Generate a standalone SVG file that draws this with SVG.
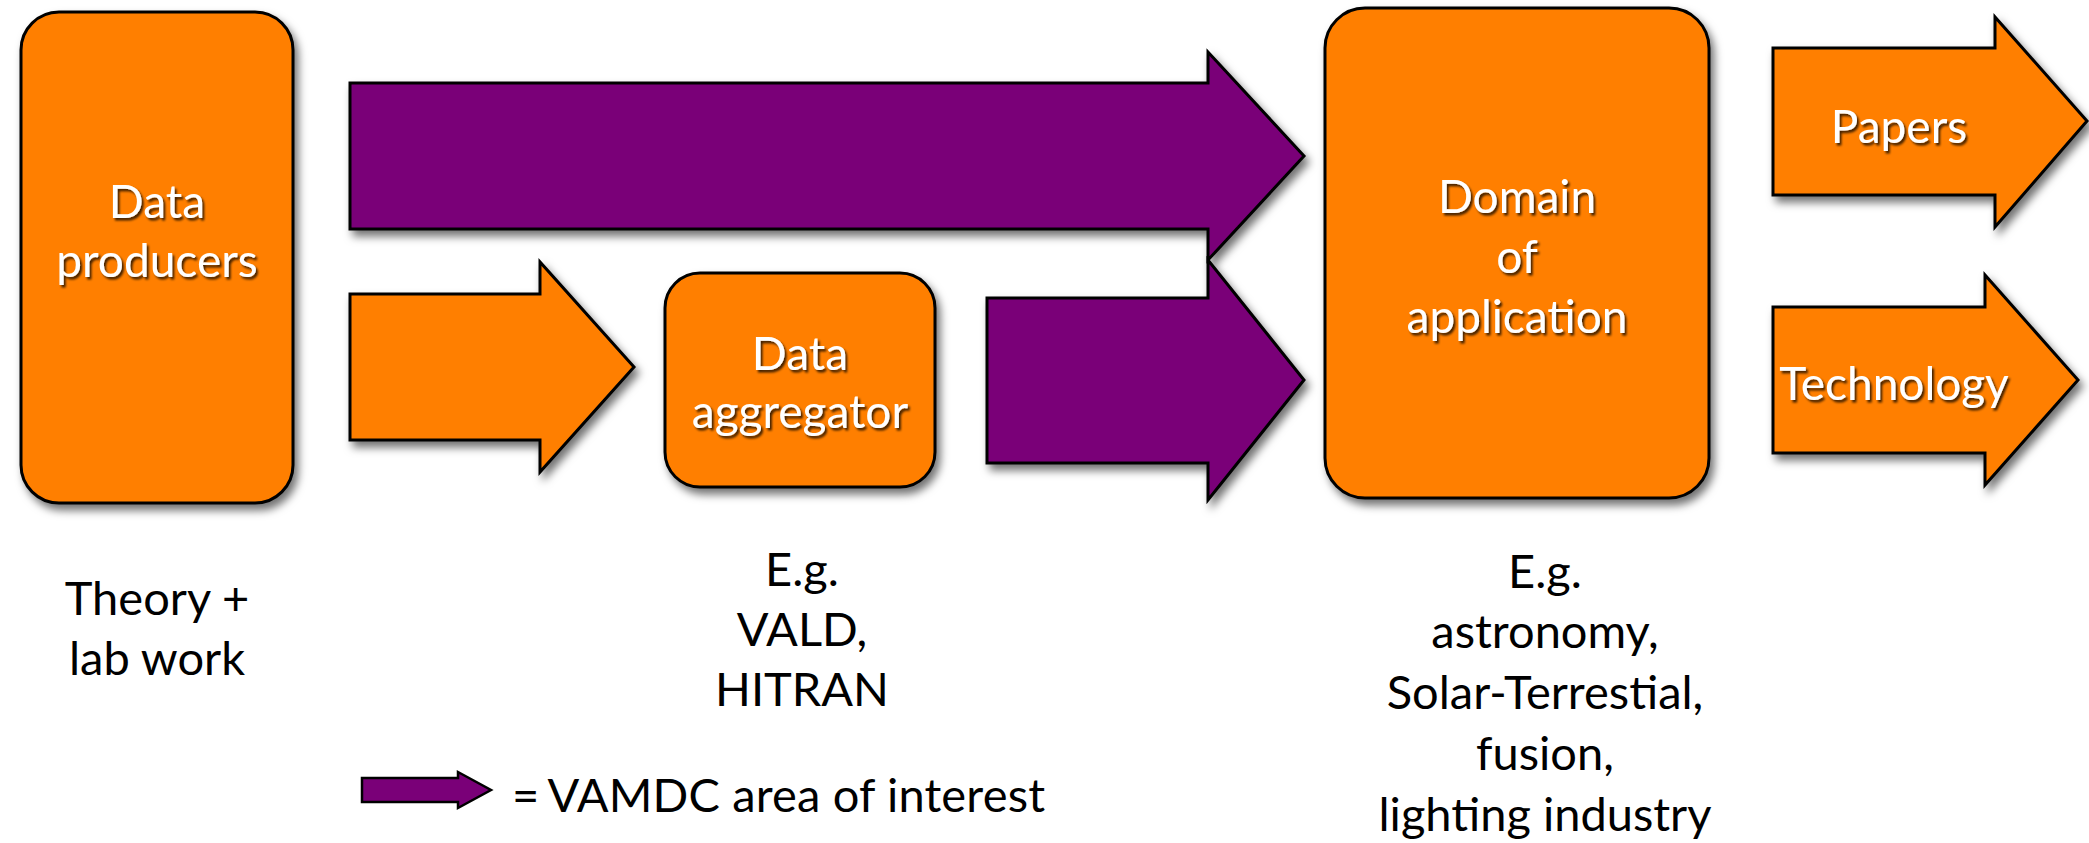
<svg xmlns="http://www.w3.org/2000/svg" width="2089" height="843" viewBox="0 0 2089 843">
  <defs>
    <filter id="shadow" x="-10%" y="-10%" width="130%" height="130%">
      <feDropShadow dx="4" dy="6" stdDeviation="4" flood-color="#000" flood-opacity="0.55"/>
    </filter>
    <filter id="tshadow" x="-10%" y="-20%" width="130%" height="150%">
      <feDropShadow dx="2" dy="2.5" stdDeviation="1.2" flood-color="#000" flood-opacity="0.75"/>
    </filter>
    <style>
      .orange { fill: #FF7F00; stroke: #000; stroke-width: 3; stroke-linejoin: miter; }
      .purple { fill: #7A0078; stroke: #000; stroke-width: 3; stroke-linejoin: miter; }
      .shape { filter: url(#shadow); }
      .lbl { font-family: "Lato", "Open Sans", sans-serif; font-size: 46px; fill: #fff; text-anchor: middle; filter: url(#tshadow); }
      .cap { font-family: "Lato", "Open Sans", sans-serif; font-size: 47px; fill: #000; text-anchor: middle; }
      .legend { font-family: "Lato", "Open Sans", sans-serif; font-size: 47px; fill: #000; }
    </style>
  </defs>
  <rect width="2089" height="843" fill="#fff"/>

  <g id="connectors">
    <path class="purple shape" d="M350,83 H1208 V52 L1304,156 L1208,260 V229 H350 Z"/>
    <path class="orange shape" d="M350,294 H540 V262 L634,367 L540,472 V440 H350 Z"/>
    <path class="purple shape" d="M987,298 H1208 V260 L1304,380 L1208,500 V463 H987 Z"/>
  </g>

  <g id="data-producers">
    <rect class="orange shape" x="21" y="12" width="272" height="491" rx="38" ry="38"/>
    <text class="lbl" x="157" y="218">Data</text>
    <text class="lbl" x="157" y="277">producers</text>
  </g>

  <g id="data-aggregator">
    <rect class="orange shape" x="665" y="273" width="270" height="214" rx="35" ry="35"/>
    <text class="lbl" x="800" y="370">Data</text>
    <text class="lbl" x="800" y="428">aggregator</text>
  </g>

  <g id="domain-of-application">
    <rect class="orange shape" x="1325" y="8" width="384" height="490" rx="40" ry="40"/>
    <text class="lbl" x="1517" y="213">Domain</text>
    <text class="lbl" x="1517" y="273">of</text>
    <text class="lbl" x="1517" y="333">application</text>
  </g>

  <g id="papers">
    <path class="orange shape" d="M1773,48 H1995 V17 L2087,121 L1995,227 V195 H1773 Z"/>
    <text class="lbl" x="1899" y="143">Papers</text>
  </g>

  <g id="technology">
    <path class="orange shape" d="M1773,307 H1985 V275 L2078,380 L1985,485 V453 H1773 Z"/>
    <text class="lbl" x="1894" y="400">Technology</text>
  </g>

  <g id="caption-producers">
    <text class="cap" x="157" y="615">Theory +</text>
    <text class="cap" x="157" y="675">lab work</text>
  </g>

  <g id="caption-aggregator">
    <text class="cap" x="802" y="586">E.g.</text>
    <text class="cap" x="802" y="646">VALD,</text>
    <text class="cap" x="802" y="706">HITRAN</text>
  </g>

  <g id="caption-domain">
    <text class="cap" x="1545" y="588">E.g.</text>
    <text class="cap" x="1545" y="648">astronomy,</text>
    <text class="cap" x="1545" y="709">Solar-Terrestial,</text>
    <text class="cap" x="1545" y="770">fusion,</text>
    <text class="cap" x="1545" y="831">lighting industry</text>
  </g>

  <g id="legend">
    <path class="purple" style="stroke-width:2.5" d="M362,778 H458 V772 L491,790 L458,808 V802 H362 Z"/>
    <text class="legend" x="512" y="812" textLength="533" lengthAdjust="spacing">=<tspan dx="8">VAMDC area of interest</tspan></text>
  </g>
</svg>
